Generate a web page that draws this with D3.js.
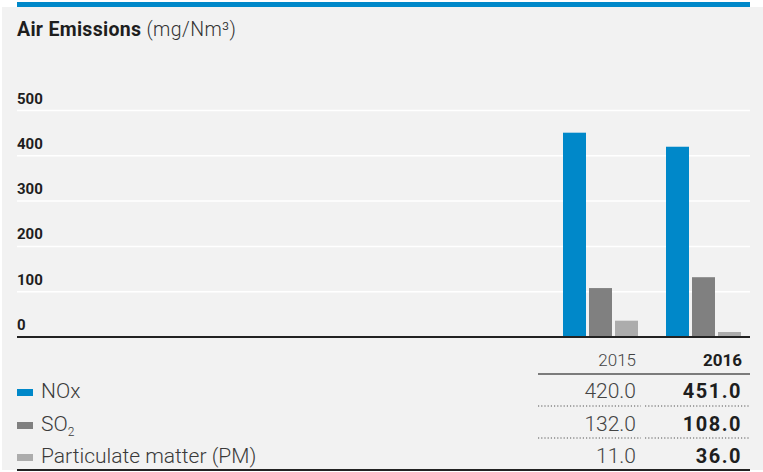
<!DOCTYPE html>
<html>
<head>
<meta charset="utf-8">
<script src="https://cdn.jsdelivr.net/npm/d3@7"></script>
<style>
  html, body { margin: 0; padding: 0; background: #ffffff; }
  svg { display: block; }
  text { font-family: Roboto, "Noto Sans", sans-serif; }
</style>
</head>
<body>
<svg id="chart" width="763" height="472"></svg>
<script>
// Emission values per year (mg/Nm³)
const years = ["2015", "2016"];
const noxValues = [420.0, 451.0];
const so2Values = [132.0, 108.0];
const pmValues = [11.0, 36.0];
const yTicks = [0, 100, 200, 300, 400, 500];
// Bar groups are laid out most recent year first
const barYearOrder = ["2016", "2015"];

const seriesNames = ["NOx", "SO2", "PM"];
const seriesColors = { NOx: "#0088c9", SO2: "#808080", PM: "#acacac" };

const svg = d3.select("#chart");

// panel background and top accent
svg.append("rect").attr("x", 2).attr("y", 7).attr("width", 761).attr("height", 463).attr("fill", "#f2f2f2");
svg.append("rect").attr("x", 17).attr("y", 2).attr("width", 733).attr("height", 5).attr("fill", "#0088c9");

// title
const title = svg.append("text").attr("x", 17).attr("y", 36).attr("font-size", 19.5).attr("fill", "#1e1e1e");
title.append("tspan").attr("font-weight", 700).attr("letter-spacing", 0.3).text("Air Emissions");
title.append("tspan").attr("font-weight", 300).attr("fill", "#333").attr("letter-spacing", 0.4).text(" (mg/Nm³)");

// scales
const y = d3.scaleLinear().domain([0, 500]).range([337, 110.5]);
const x0 = d3.scaleBand().domain(barYearOrder).range([563, 741]).paddingInner(28 / 103).paddingOuter(0);
const x1 = d3.scaleBand().domain(seriesNames).range([0, x0.bandwidth()]).paddingInner(3 / 26).paddingOuter(0);

// gridlines and tick labels
const grid = svg.append("g");
grid.selectAll("line").data(yTicks.filter(t => t > 0)).join("line")
  .attr("x1", 17).attr("x2", 750)
  .attr("y1", d => y(d)).attr("y2", d => y(d))
  .attr("stroke", "#ffffff").attr("stroke-width", 1.5);
grid.selectAll("text").data(yTicks).join("text")
  .attr("x", 17).attr("y", d => y(d) - 7)
  .attr("font-size", 15).attr("font-weight", 700).attr("fill", "#1e1e1e")
  .text(d => d);

// bars
const valueOf = { NOx: noxValues, SO2: so2Values, PM: pmValues };
const barData = [];
barYearOrder.forEach(yr => {
  const i = years.indexOf(yr);
  seriesNames.forEach(s => barData.push({ year: yr, series: s, value: valueOf[s][i] }));
});
svg.append("g").selectAll("rect").data(barData).join("rect")
  .attr("x", d => x0(d.year) + x1(d.series))
  .attr("width", x1.bandwidth())
  .attr("y", d => y(d.value))
  .attr("height", d => y(0) - y(d.value))
  .attr("fill", d => seriesColors[d.series]);

// baseline
svg.append("line").attr("x1", 17).attr("x2", 750).attr("y1", y(0)).attr("y2", y(0))
  .attr("stroke", "#222").attr("stroke-width", 2);

// table
const colRight = { "2015": 636, "2016": 742 };
const colSpan = { "2015": [538, 641], "2016": [645, 750] };
const rowBaselines = [398, 431, 463];

svg.append("text").attr("x", colRight["2015"]).attr("y", 366).attr("text-anchor", "end")
  .attr("font-size", 17).attr("font-weight", 300).attr("fill", "#444").text(years[0]);
svg.append("text").attr("x", colRight["2016"]).attr("y", 366).attr("text-anchor", "end")
  .attr("font-size", 17).attr("font-weight", 700).attr("fill", "#1e1e1e").text(years[1]);
svg.append("line").attr("x1", 538).attr("x2", 750).attr("y1", 374).attr("y2", 374)
  .attr("stroke", "#555").attr("stroke-width", 1.5);

// legend labels
const legendLabels = ["NOx", "SO", "Particulate matter (PM)"];
seriesNames.forEach((s, r) => {
  const by = rowBaselines[r];
  svg.append("rect").attr("x", 17).attr("y", by - 9).attr("width", 16).attr("height", 7)
    .attr("fill", seriesColors[s]);
  const t = svg.append("text").attr("x", 41).attr("y", by)
    .attr("font-size", 21).attr("font-weight", 300).attr("fill", "#3a3a3a").text(legendLabels[r]);
  if (s === "SO2") {
    t.append("tspan").attr("font-size", 12).attr("dy", 5).text("2");
  }
  const vals = valueOf[s];
  svg.append("text").attr("x", colRight["2015"]).attr("y", by).attr("text-anchor", "end")
    .attr("font-size", 21).attr("font-weight", 300).attr("fill", "#444")
    .text(d3.format(".1f")(vals[0]));
  svg.append("text").attr("x", colRight["2016"]).attr("y", by).attr("text-anchor", "end")
    .attr("font-size", 20).attr("font-weight", 700).attr("fill", "#1e1e1e")
    .attr("letter-spacing", 1.5)
    .text(d3.format(".1f")(vals[1]));
});

// dotted row separators
[406, 438].forEach(ly => {
  years.forEach(yr => {
    svg.append("line").attr("x1", colSpan[yr][0]).attr("x2", colSpan[yr][1])
      .attr("y1", ly).attr("y2", ly)
      .attr("stroke", "#555").attr("stroke-width", 1).attr("stroke-dasharray", "1.2,2");
  });
});

// bottom rule
svg.append("line").attr("x1", 17).attr("x2", 750).attr("y1", 470).attr("y2", 470)
  .attr("stroke", "#222").attr("stroke-width", 2);
</script>
</body>
</html>
